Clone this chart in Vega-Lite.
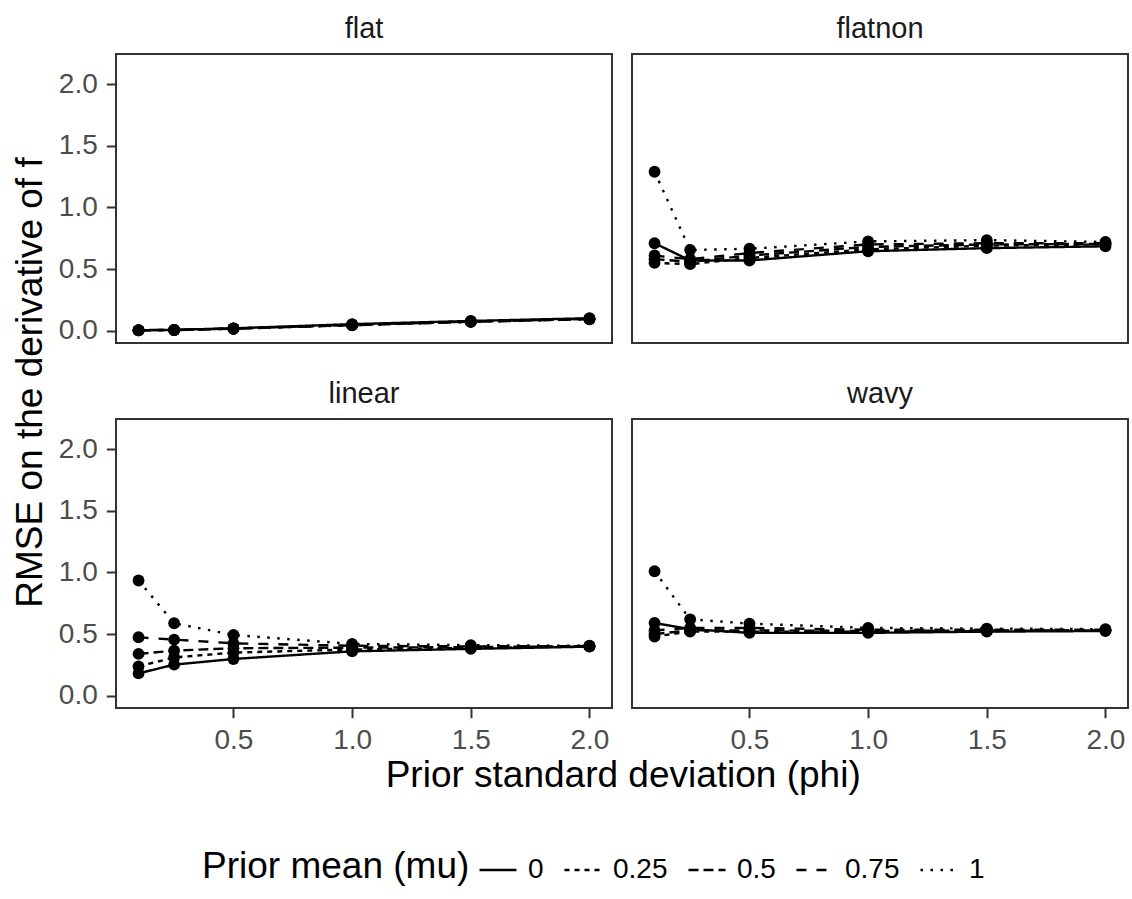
{
  "$schema": "https://vega.github.io/schema/vega-lite/v6.json",
  "padding": {"left": 12, "top": 14, "right": 3, "bottom": 6},
  "autosize": {"type": "pad"},
  "background": "white",
  "title": {"text": "RMSE on the derivative of f", "orient": "left", "anchor": "middle", "fontSize": 37, "font": "Liberation Sans", "fontWeight": "normal", "color": "black", "baseline": "alphabetic", "offset": -22, "dx": 67},
  "data": {"values": [
    {"panel": "flat", "mu": "0", "phi": 0.1, "rmse": 0.004}, {"panel": "flat", "mu": "0", "phi": 0.25, "rmse": 0.007}, {"panel": "flat", "mu": "0", "phi": 0.5, "rmse": 0.019}, {"panel": "flat", "mu": "0", "phi": 1.0, "rmse": 0.053}, {"panel": "flat", "mu": "0", "phi": 1.5, "rmse": 0.079}, {"panel": "flat", "mu": "0", "phi": 2.0, "rmse": 0.101},
    {"panel": "flat", "mu": "0.25", "phi": 0.1, "rmse": 0.004}, {"panel": "flat", "mu": "0.25", "phi": 0.25, "rmse": 0.006}, {"panel": "flat", "mu": "0.25", "phi": 0.5, "rmse": 0.018}, {"panel": "flat", "mu": "0.25", "phi": 1.0, "rmse": 0.048}, {"panel": "flat", "mu": "0.25", "phi": 1.5, "rmse": 0.075}, {"panel": "flat", "mu": "0.25", "phi": 2.0, "rmse": 0.097},
    {"panel": "flat", "mu": "0.5", "phi": 0.1, "rmse": 0.003}, {"panel": "flat", "mu": "0.5", "phi": 0.25, "rmse": 0.006}, {"panel": "flat", "mu": "0.5", "phi": 0.5, "rmse": 0.017}, {"panel": "flat", "mu": "0.5", "phi": 1.0, "rmse": 0.046}, {"panel": "flat", "mu": "0.5", "phi": 1.5, "rmse": 0.073}, {"panel": "flat", "mu": "0.5", "phi": 2.0, "rmse": 0.095},
    {"panel": "flat", "mu": "0.75", "phi": 0.1, "rmse": 0.003}, {"panel": "flat", "mu": "0.75", "phi": 0.25, "rmse": 0.005}, {"panel": "flat", "mu": "0.75", "phi": 0.5, "rmse": 0.016}, {"panel": "flat", "mu": "0.75", "phi": 1.0, "rmse": 0.045}, {"panel": "flat", "mu": "0.75", "phi": 1.5, "rmse": 0.072}, {"panel": "flat", "mu": "0.75", "phi": 2.0, "rmse": 0.094},
    {"panel": "flat", "mu": "1", "phi": 0.1, "rmse": 0.003}, {"panel": "flat", "mu": "1", "phi": 0.25, "rmse": 0.005}, {"panel": "flat", "mu": "1", "phi": 0.5, "rmse": 0.016}, {"panel": "flat", "mu": "1", "phi": 1.0, "rmse": 0.044}, {"panel": "flat", "mu": "1", "phi": 1.5, "rmse": 0.071}, {"panel": "flat", "mu": "1", "phi": 2.0, "rmse": 0.093},
    {"panel": "flatnon", "mu": "0", "phi": 0.1, "rmse": 0.71}, {"panel": "flatnon", "mu": "0", "phi": 0.25, "rmse": 0.57}, {"panel": "flatnon", "mu": "0", "phi": 0.5, "rmse": 0.57}, {"panel": "flatnon", "mu": "0", "phi": 1.0, "rmse": 0.645}, {"panel": "flatnon", "mu": "0", "phi": 1.5, "rmse": 0.67}, {"panel": "flatnon", "mu": "0", "phi": 2.0, "rmse": 0.685},
    {"panel": "flatnon", "mu": "0.25", "phi": 0.1, "rmse": 0.55}, {"panel": "flatnon", "mu": "0.25", "phi": 0.25, "rmse": 0.54}, {"panel": "flatnon", "mu": "0.25", "phi": 0.5, "rmse": 0.59}, {"panel": "flatnon", "mu": "0.25", "phi": 1.0, "rmse": 0.66}, {"panel": "flatnon", "mu": "0.25", "phi": 1.5, "rmse": 0.69}, {"panel": "flatnon", "mu": "0.25", "phi": 2.0, "rmse": 0.70},
    {"panel": "flatnon", "mu": "0.5", "phi": 0.1, "rmse": 0.58}, {"panel": "flatnon", "mu": "0.5", "phi": 0.25, "rmse": 0.56}, {"panel": "flatnon", "mu": "0.5", "phi": 0.5, "rmse": 0.61}, {"panel": "flatnon", "mu": "0.5", "phi": 1.0, "rmse": 0.68}, {"panel": "flatnon", "mu": "0.5", "phi": 1.5, "rmse": 0.70}, {"panel": "flatnon", "mu": "0.5", "phi": 2.0, "rmse": 0.705},
    {"panel": "flatnon", "mu": "0.75", "phi": 0.1, "rmse": 0.61}, {"panel": "flatnon", "mu": "0.75", "phi": 0.25, "rmse": 0.58}, {"panel": "flatnon", "mu": "0.75", "phi": 0.5, "rmse": 0.63}, {"panel": "flatnon", "mu": "0.75", "phi": 1.0, "rmse": 0.70}, {"panel": "flatnon", "mu": "0.75", "phi": 1.5, "rmse": 0.71}, {"panel": "flatnon", "mu": "0.75", "phi": 2.0, "rmse": 0.71},
    {"panel": "flatnon", "mu": "1", "phi": 0.1, "rmse": 1.29}, {"panel": "flatnon", "mu": "1", "phi": 0.25, "rmse": 0.655}, {"panel": "flatnon", "mu": "1", "phi": 0.5, "rmse": 0.665}, {"panel": "flatnon", "mu": "1", "phi": 1.0, "rmse": 0.725}, {"panel": "flatnon", "mu": "1", "phi": 1.5, "rmse": 0.735}, {"panel": "flatnon", "mu": "1", "phi": 2.0, "rmse": 0.72},
    {"panel": "linear", "mu": "0", "phi": 0.1, "rmse": 0.181}, {"panel": "linear", "mu": "0", "phi": 0.25, "rmse": 0.252}, {"panel": "linear", "mu": "0", "phi": 0.5, "rmse": 0.298}, {"panel": "linear", "mu": "0", "phi": 1.0, "rmse": 0.36}, {"panel": "linear", "mu": "0", "phi": 1.5, "rmse": 0.38}, {"panel": "linear", "mu": "0", "phi": 2.0, "rmse": 0.398},
    {"panel": "linear", "mu": "0.25", "phi": 0.1, "rmse": 0.238}, {"panel": "linear", "mu": "0.25", "phi": 0.25, "rmse": 0.31}, {"panel": "linear", "mu": "0.25", "phi": 0.5, "rmse": 0.35}, {"panel": "linear", "mu": "0.25", "phi": 1.0, "rmse": 0.375}, {"panel": "linear", "mu": "0.25", "phi": 1.5, "rmse": 0.388}, {"panel": "linear", "mu": "0.25", "phi": 2.0, "rmse": 0.40},
    {"panel": "linear", "mu": "0.5", "phi": 0.1, "rmse": 0.339}, {"panel": "linear", "mu": "0.5", "phi": 0.25, "rmse": 0.366}, {"panel": "linear", "mu": "0.5", "phi": 0.5, "rmse": 0.385}, {"panel": "linear", "mu": "0.5", "phi": 1.0, "rmse": 0.39}, {"panel": "linear", "mu": "0.5", "phi": 1.5, "rmse": 0.394}, {"panel": "linear", "mu": "0.5", "phi": 2.0, "rmse": 0.402},
    {"panel": "linear", "mu": "0.75", "phi": 0.1, "rmse": 0.474}, {"panel": "linear", "mu": "0.75", "phi": 0.25, "rmse": 0.455}, {"panel": "linear", "mu": "0.75", "phi": 0.5, "rmse": 0.425}, {"panel": "linear", "mu": "0.75", "phi": 1.0, "rmse": 0.405}, {"panel": "linear", "mu": "0.75", "phi": 1.5, "rmse": 0.40}, {"panel": "linear", "mu": "0.75", "phi": 2.0, "rmse": 0.403},
    {"panel": "linear", "mu": "1", "phi": 0.1, "rmse": 0.935}, {"panel": "linear", "mu": "1", "phi": 0.25, "rmse": 0.588}, {"panel": "linear", "mu": "1", "phi": 0.5, "rmse": 0.493}, {"panel": "linear", "mu": "1", "phi": 1.0, "rmse": 0.42}, {"panel": "linear", "mu": "1", "phi": 1.5, "rmse": 0.41}, {"panel": "linear", "mu": "1", "phi": 2.0, "rmse": 0.405},
    {"panel": "wavy", "mu": "0", "phi": 0.1, "rmse": 0.59}, {"panel": "wavy", "mu": "0", "phi": 0.25, "rmse": 0.54}, {"panel": "wavy", "mu": "0", "phi": 0.5, "rmse": 0.51}, {"panel": "wavy", "mu": "0", "phi": 1.0, "rmse": 0.51}, {"panel": "wavy", "mu": "0", "phi": 1.5, "rmse": 0.52}, {"panel": "wavy", "mu": "0", "phi": 2.0, "rmse": 0.525},
    {"panel": "wavy", "mu": "0.25", "phi": 0.1, "rmse": 0.48}, {"panel": "wavy", "mu": "0.25", "phi": 0.25, "rmse": 0.52}, {"panel": "wavy", "mu": "0.25", "phi": 0.5, "rmse": 0.52}, {"panel": "wavy", "mu": "0.25", "phi": 1.0, "rmse": 0.52}, {"panel": "wavy", "mu": "0.25", "phi": 1.5, "rmse": 0.525}, {"panel": "wavy", "mu": "0.25", "phi": 2.0, "rmse": 0.53},
    {"panel": "wavy", "mu": "0.5", "phi": 0.1, "rmse": 0.50}, {"panel": "wavy", "mu": "0.5", "phi": 0.25, "rmse": 0.53}, {"panel": "wavy", "mu": "0.5", "phi": 0.5, "rmse": 0.53}, {"panel": "wavy", "mu": "0.5", "phi": 1.0, "rmse": 0.525}, {"panel": "wavy", "mu": "0.5", "phi": 1.5, "rmse": 0.53}, {"panel": "wavy", "mu": "0.5", "phi": 2.0, "rmse": 0.53},
    {"panel": "wavy", "mu": "0.75", "phi": 0.1, "rmse": 0.53}, {"panel": "wavy", "mu": "0.75", "phi": 0.25, "rmse": 0.55}, {"panel": "wavy", "mu": "0.75", "phi": 0.5, "rmse": 0.55}, {"panel": "wavy", "mu": "0.75", "phi": 1.0, "rmse": 0.535}, {"panel": "wavy", "mu": "0.75", "phi": 1.5, "rmse": 0.535}, {"panel": "wavy", "mu": "0.75", "phi": 2.0, "rmse": 0.535},
    {"panel": "wavy", "mu": "1", "phi": 0.1, "rmse": 1.01}, {"panel": "wavy", "mu": "1", "phi": 0.25, "rmse": 0.62}, {"panel": "wavy", "mu": "1", "phi": 0.5, "rmse": 0.585}, {"panel": "wavy", "mu": "1", "phi": 1.0, "rmse": 0.55}, {"panel": "wavy", "mu": "1", "phi": 1.5, "rmse": 0.545}, {"panel": "wavy", "mu": "1", "phi": 2.0, "rmse": 0.54}
  ]},
  "vconcat": [
    {
      "hconcat": [
        {
          "width": 496, "height": 289,
          "title": {"text": "flat"},
          "transform": [{"filter": "datum.panel === 'flat'"}],
          "layer": [
            {"mark": {"type": "line", "color": "black", "strokeWidth": 2.4},
             "encoding": {
               "x": {"field": "phi", "type": "quantitative", "scale": {"domain": [0.005, 2.095], "nice": false, "zero": false}, "axis": null},
               "y": {"field": "rmse", "type": "quantitative", "scale": {"domain": [-0.1, 2.246], "nice": false, "zero": false}, "axis": {"values": [0, 0.5, 1, 1.5, 2], "format": ".1f", "title": null}},
               "strokeDash": {"field": "mu", "type": "nominal", "title": "Prior mean (mu)", "scale": {"domain": ["0", "0.25", "0.5", "0.75", "1"], "range": [[1, 0], [5, 5], [10, 5], [10, 10], [2.5, 7.5]]}}
             }},
            {"mark": {"type": "point", "filled": true, "color": "black", "size": 140, "opacity": 1},
             "encoding": {
               "x": {"field": "phi", "type": "quantitative"},
               "y": {"field": "rmse", "type": "quantitative"}
             }}
          ]
        },
        {
          "width": 496, "height": 289,
          "title": {"text": "flatnon"},
          "transform": [{"filter": "datum.panel === 'flatnon'"}],
          "layer": [
            {"mark": {"type": "line", "color": "black", "strokeWidth": 2.4},
             "encoding": {
               "x": {"field": "phi", "type": "quantitative", "scale": {"domain": [0.005, 2.095], "nice": false, "zero": false}, "axis": null},
               "y": {"field": "rmse", "type": "quantitative", "scale": {"domain": [-0.1, 2.246], "nice": false, "zero": false}, "axis": null},
               "strokeDash": {"field": "mu", "type": "nominal", "title": "Prior mean (mu)", "scale": {"domain": ["0", "0.25", "0.5", "0.75", "1"], "range": [[1, 0], [5, 5], [10, 5], [10, 10], [2.5, 7.5]]}}
             }},
            {"mark": {"type": "point", "filled": true, "color": "black", "size": 140, "opacity": 1},
             "encoding": {
               "x": {"field": "phi", "type": "quantitative"},
               "y": {"field": "rmse", "type": "quantitative"}
             }}
          ]
        }
      ],
      "spacing": 20,
      "bounds": "flush"
    },
    {
      "title": {"text": "Prior standard deviation (phi)", "orient": "bottom", "anchor": "middle", "fontSize": 37, "color": "black", "baseline": "top", "offset": 2, "dx": 30},
      "hconcat": [
        {
          "width": 496, "height": 289,
          "title": {"text": "linear"},
          "transform": [{"filter": "datum.panel === 'linear'"}],
          "layer": [
            {"mark": {"type": "line", "color": "black", "strokeWidth": 2.4},
             "encoding": {
               "x": {"field": "phi", "type": "quantitative", "scale": {"domain": [0.005, 2.095], "nice": false, "zero": false}, "axis": {"values": [0.5, 1, 1.5, 2], "format": ".1f", "title": null}},
               "y": {"field": "rmse", "type": "quantitative", "scale": {"domain": [-0.1, 2.246], "nice": false, "zero": false}, "axis": {"values": [0, 0.5, 1, 1.5, 2], "format": ".1f", "title": null}},
               "strokeDash": {"field": "mu", "type": "nominal", "title": "Prior mean (mu)", "scale": {"domain": ["0", "0.25", "0.5", "0.75", "1"], "range": [[1, 0], [5, 5], [10, 5], [10, 10], [2.5, 7.5]]}}
             }},
            {"mark": {"type": "point", "filled": true, "color": "black", "size": 140, "opacity": 1},
             "encoding": {
               "x": {"field": "phi", "type": "quantitative"},
               "y": {"field": "rmse", "type": "quantitative"}
             }}
          ]
        },
        {
          "width": 496, "height": 289,
          "title": {"text": "wavy"},
          "transform": [{"filter": "datum.panel === 'wavy'"}],
          "layer": [
            {"mark": {"type": "line", "color": "black", "strokeWidth": 2.4},
             "encoding": {
               "x": {"field": "phi", "type": "quantitative", "scale": {"domain": [0.005, 2.095], "nice": false, "zero": false}, "axis": {"values": [0.5, 1, 1.5, 2], "format": ".1f", "title": null}},
               "y": {"field": "rmse", "type": "quantitative", "scale": {"domain": [-0.1, 2.246], "nice": false, "zero": false}, "axis": null},
               "strokeDash": {"field": "mu", "type": "nominal", "title": "Prior mean (mu)", "scale": {"domain": ["0", "0.25", "0.5", "0.75", "1"], "range": [[1, 0], [5, 5], [10, 5], [10, 10], [2.5, 7.5]]}}
             }},
            {"mark": {"type": "point", "filled": true, "color": "black", "size": 140, "opacity": 1},
             "encoding": {
               "x": {"field": "phi", "type": "quantitative"},
               "y": {"field": "rmse", "type": "quantitative"}
             }}
          ]
        }
      ],
      "spacing": 20,
      "bounds": "flush"
    }
  ],
  "spacing": 33,
  "resolve": {"scale": {"strokeDash": "shared"}},
  "config": {
    "font": "Liberation Sans",
    "view": {"stroke": "#333333", "strokeWidth": 2},
    "title": {"font": "Liberation Sans", "fontWeight": "normal", "fontSize": 29, "color": "#1A1A1A", "anchor": "middle", "baseline": "alphabetic", "offset": 10},
    "axis": {"domain": false, "grid": false, "ticks": true, "tickColor": "#333333", "tickWidth": 2, "tickSize": 9.7, "labelFont": "Liberation Sans", "labelFontSize": 28, "labelColor": "#4D4D4D", "labelPadding": 9},
    "legend": {"orient": "bottom", "direction": "horizontal", "titleOrient": "left", "titleFont": "Liberation Sans", "titleFontSize": 37, "titleFontWeight": "normal", "titleColor": "black", "titleLimit": 600, "labelFont": "Liberation Sans", "labelFontSize": 28, "labelColor": "black", "symbolType": "stroke", "symbolStrokeWidth": 2.4, "symbolStrokeColor": "black", "symbolSize": 1369, "columnPadding": 15, "labelOffset": 10, "offset": 56, "titlePadding": 8, "layout": {"bottom": {"anchor": "middle"}}}
  }
}
